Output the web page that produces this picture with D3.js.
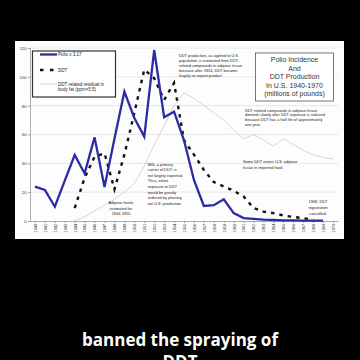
<!DOCTYPE html>
<html><head><meta charset="utf-8">
<script src="https://cdn.jsdelivr.net/npm/d3@7"></script>
<style>html,body{margin:0;padding:0;background:#000;}svg{display:block;}</style>
</head><body>
<svg id="c" width="360" height="360"></svg>
<script>
const years = d3.range(1940, 1971).map(String);
const yTicks = [0, 20, 40, 60, 80, 100, 120];
const polioYears = d3.range(1940, 1970).map(String);
const polio = [23.8, 21.5, 9.9, 28, 45.8, 33, 58, 23.6, 57, 89.7, 71.5, 58.5, 118.6, 72, 75.8, 56, 28.5, 10.4, 11, 15, 5.5, 2, 1.5, 1, 0.7, 0.5, 0.4, 0.3, 0.2, 0.2];
const ddtYears = d3.range(1944, 1969).map(String);
const ddt = [9, 30, 44.6, 47, 22, 46, 75, 105, 99, 84, 95.7, 56, 46, 35.4, 27, 24, 21, 17, 9, 6.5, 5.5, 3.8, 2.8, 2, 0.8];
const fatYears = d3.range(1944, 1971).map(String);
const fat = [0, 3, 7, 11, 15, 20, 26, 38, 53, 66, 80, 89, 85, 80, 75, 70, 63, 57, 60, 56, 52, 57, 53, 49, 46, 44, 43];
const legendLabels = ["Polio x 3.17", "DDT", "DDT related residual in", "body fat (ppm\u00d75.5)"];
const titleLines = ["Polio Incidence", "And", "DDT Production", "In U.S. 1940-1970", "(millions of pounds)"];
const note1 = ["DDT production, as applied to U.S.", "population, is estimated from DDT-", "related compounds in adipose tissue", "because after 1954, DDT became", "largely an export product"];
const note2 = ["DDT related compounds in adipose tissue", "diminish slowly after DDT exposure is reduced", "because DDT has a half life of approximately", "one year."];
const note3 = ["Some DDT enters U.S. adipose", "tissue in imported food."];
const note4 = ["Milk, a primary", "carrier of DDT, is", "not largely exported.", "Thus, infant", "exposure to DDT", "would be greatly", "reduced by phasing", "out U.S. production"];
const note5 = ["Adipose levels", "estimated for", "1944-1950"];
const note6 = ["1969, DDT", "registration", "cancelled."];
const caption = ["banned the spraying of", "DDT"];

const svg = d3.select("#c");
const F = "'Liberation Sans', Arial, sans-serif";
svg.append("rect").attr("width",360).attr("height",360).attr("fill","#000");
svg.append("rect").attr("x",15).attr("y",41).attr("width",329).attr("height",198).attr("fill","#fdfdfd");

const x = d3.scalePoint().domain(years).range([30, 338]).padding(0.5);
const y = d3.scaleLinear().domain([0, 120]).range([221, 48]);

svg.append("g").selectAll("line").data(yTicks.filter(d=>d>0)).join("line")
  .attr("x1",30).attr("x2",338).attr("y1",d=>y(d)).attr("y2",d=>y(d))
  .attr("stroke","#dcdcdc").attr("stroke-width",0.7);

const ya = svg.append("g").attr("transform","translate(30,0)")
  .call(d3.axisLeft(y).tickValues(yTicks).tickSize(2).tickPadding(1.5));
ya.select(".domain").attr("stroke","#999").attr("stroke-width",0.8);
ya.selectAll(".tick line").attr("stroke","#999");
ya.selectAll("text").attr("font-family",F).attr("font-size",4.2).attr("fill","#333");

const xa = svg.append("g").attr("transform","translate(0,221)")
  .call(d3.axisBottom(x).tickSize(2).tickSizeOuter(0));
xa.select(".domain").attr("stroke","#999").attr("stroke-width",0.8);
xa.selectAll(".tick line").attr("stroke","#999");
xa.selectAll("text").attr("font-family",F).attr("font-size",3.8).attr("fill","#333")
  .attr("transform","rotate(-90)").attr("text-anchor","end").attr("dy","0.35em").attr("x",-3).attr("y",0);

const lineOf = (ys, vs) => d3.line().x((d,i)=>x(ys[i])).y(d=>y(d))(vs);
svg.append("path").attr("d", lineOf(fatYears, fat)).attr("fill","none").attr("stroke","#cfcfcf").attr("stroke-width",0.9);
svg.append("path").attr("d", lineOf(ddtYears, ddt)).attr("fill","none").attr("stroke","#111").attr("stroke-width",2.4).attr("stroke-dasharray","3.5,5");
svg.append("path").attr("d", lineOf(polioYears, polio)).attr("fill","none").attr("stroke","#2b2ba3").attr("stroke-width",2.3).attr("stroke-linejoin","miter");

svg.append("rect").attr("x",32.5).attr("y",51).attr("width",83).attr("height",46).attr("fill","#fff").attr("stroke","#333").attr("stroke-width",1.2);
svg.append("line").attr("x1",40).attr("x2",57).attr("y1",54.5).attr("y2",54.5).attr("stroke","#2b2ba3").attr("stroke-width",2.3);
svg.append("line").attr("x1",40).attr("x2",55).attr("y1",70).attr("y2",70).attr("stroke","#111").attr("stroke-width",2.4).attr("stroke-dasharray","3.5,6.5");
svg.append("line").attr("x1",40).attr("x2",57).attr("y1",84).attr("y2",84).attr("stroke","#cfcfcf").attr("stroke-width",0.9);
const legY = [56, 71.5, 85.5, 91];
svg.append("g").selectAll("text").data(legendLabels).join("text")
  .attr("x",58).attr("y",(d,i)=>legY[i]).text(d=>d)
  .attr("font-family",F).attr("font-size",4.5).attr("fill","#222");

svg.append("rect").attr("x",255.5).attr("y",53).attr("width",78).attr("height",48).attr("fill","#fff").attr("stroke","#555").attr("stroke-width",0.8);
svg.append("g").selectAll("text").data(titleLines).join("text")
  .attr("x",294.5).attr("y",(d,i)=>62 + i*8.5).attr("text-anchor","middle").text(d=>d)
  .attr("font-family",F).attr("font-size",7).attr("fill","#333");

function note(lines, x0, y0, dy, anchor){
  svg.append("g").selectAll("text").data(lines).join("text")
    .attr("x",x0).attr("y",(d,i)=>y0+i*dy).attr("text-anchor",anchor||"start").text(d=>d)
    .attr("font-family",F).attr("font-size",3.9).attr("fill","#222");
}
note(note1, 179, 57, 5);
note(note2, 245, 111.5, 4.8);
note(note3, 243, 163, 6);
note(note4, 147.7, 165.5, 5.6);
note(note5, 121, 204, 5.7, "middle");
note(note6, 318, 203, 5.8, "middle");

svg.append("g").selectAll("text").data(caption).join("text")
  .attr("x",180).attr("y",(d,i)=>346 + i*22).attr("text-anchor","middle").text(d=>d)
  .attr("font-family","'Open Sans', Roboto, sans-serif").attr("font-weight",700).attr("font-size",17).attr("fill","#fff");
</script>
</body></html>
